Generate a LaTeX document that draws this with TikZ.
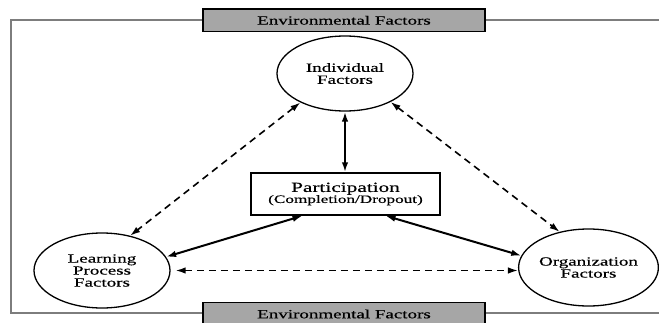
\documentclass[tikz,border=0pt]{standalone}
\usepackage{fontspec}
\setmainfont{Liberation Serif}[FakeStretch=1.52,FakeBold=0.4]
\usetikzlibrary{arrows.meta,shapes.geometric,calc}
\definecolor{envgray}{RGB}{166,166,166}
\definecolor{framegray}{RGB}{125,125,125}

\begin{document}
\begin{tikzpicture}[
    x=1pt, y=1pt,
    frame/.style={draw=framegray, line width=1.6pt},
    envbox/.style={draw, line width=1.5pt, fill=envgray, minimum width=282pt, minimum height=22.7pt, inner sep=0pt, font=\fontsize{12.5}{12.5}\selectfont},
    factor/.style={draw, ellipse, line width=1.3pt, fill=white, minimum width=136pt, minimum height=75pt, inner sep=0pt, align=center, font=\fontsize{12.5}{12}\selectfont},
    partbox/.style={draw, line width=1.5pt, minimum width=189pt, minimum height=42pt, inner sep=0pt, align=center},
    link/.style={<->, >={Latex[length=10pt,width=6.5pt]}, line width=2pt},
    weak/.style={link, line width=1.6pt, dash pattern=on 7pt off 5pt}
]
\useasboundingbox (0,0) rectangle (659,322);

% Frame
\draw[frame] (659,302) -| (11,9) -- (659,9);

% Nodes
\node[envbox] (envtop) at (344,301.7) {Environmental Factors};
\node[envbox] (envbot) at (344,8) {Environmental Factors};
\node[factor] (indiv) at (345,248.5) {Individual\\Factors};
\node[factor] (learn) at (102,51.5) {Learning\\Process\\Factors};
\node[factor, minimum width=138pt, minimum height=77pt] (org) at (588.5,54.5) {Organization\\Factors};
\node[partbox] (part) at (345.5,128) {{\fontsize{14}{14}\selectfont Participation}\\[-1pt]{\fontsize{11.3}{12}\selectfont (Completion/Dropout)}};

% Arrows
\draw[link] (indiv.south) -- (indiv.south |- part.north);
\draw[link] (learn.12) -- ([xshift=-43pt]part.south);
\draw[link] ([xshift=40pt]part.south) -- (org.170);
\draw[weak] ([xshift=5pt]learn.east) -- (learn.east -| org.west);
\draw[weak] (indiv.213) -- (learn.51);
\draw[weak] (indiv.-32) -- (org.129);
\end{tikzpicture}
\end{document}
